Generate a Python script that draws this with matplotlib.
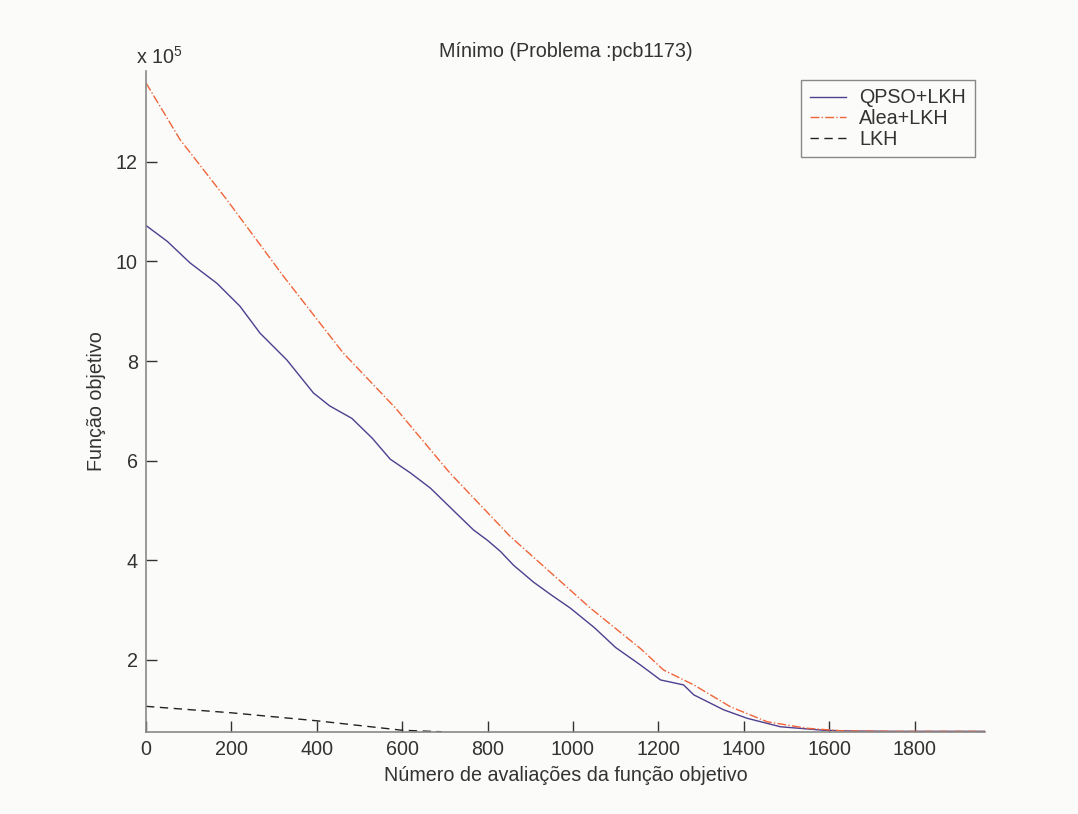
import matplotlib
matplotlib.use("Agg")
import matplotlib.pyplot as plt

# ---- data (values in units of 1e5) ----
qpso_x = [0, 50, 103, 166, 220, 267, 330, 392, 430, 482, 530, 572, 620, 666, 720,
          767, 800, 830, 861, 908, 950, 994, 1050, 1100, 1158, 1205, 1259, 1283,
          1353, 1408, 1486, 1587, 1650, 1750, 1965]
qpso_y = [10.72, 10.40, 9.97, 9.56, 9.10, 8.56, 8.02, 7.36, 7.10, 6.85, 6.45, 6.03,
          5.75, 5.45, 5.00, 4.61, 4.40, 4.18, 3.90, 3.56, 3.30, 3.04, 2.65, 2.25,
          1.90, 1.60, 1.50, 1.30, 1.00, 0.83, 0.66, 0.59, 0.575, 0.568, 0.568]

alea_x = [0, 80, 189, 322, 462, 585, 712, 853, 1041, 1158, 1212, 1283, 1369,
          1455, 1548, 1626, 1750, 1965]
alea_y = [13.58, 12.44, 11.24, 9.70, 8.16, 7.05, 5.75, 4.48, 3.04, 2.23, 1.80,
          1.50, 1.06, 0.76, 0.63, 0.58, 0.568, 0.568]

lkh_x = [0, 200, 400, 600, 693]
lkh_y = [1.07, 0.94, 0.78, 0.59, 0.56]

labels = ["QPSO+LKH", "Alea+LKH", "LKH"]
xticks = [0, 200, 400, 600, 800, 1000, 1200, 1400, 1600, 1800]
yticks = [2, 4, 6, 8, 10, 12]

plt.rcParams['font.family'] = ['Liberation Sans', 'DejaVu Sans']
FS = 14.2
plt.rcParams['font.size'] = FS

bg = '#fbfbf9'
fig = plt.figure(figsize=(10.78, 8.14), dpi=100, facecolor=bg)
ax = fig.add_axes([146/1078, 1-732/814, 839/1078, 661/814])
ax.set_facecolor(bg)

ax.plot(qpso_x, qpso_y, color='#4e3f8f', lw=1.0, label=labels[0])
ax.plot(alea_x, alea_y, color='#f0643a', lw=1.0, ls='-.', label=labels[1])
ax.plot(lkh_x, lkh_y, color='#222222', lw=1.0, ls=(0, (6, 4)), label=labels[2])

ax.set_xlim(0, 1965)
ax.set_ylim(0.555, 13.82)
ax.set_xticks(xticks)
ax.set_yticks(yticks)
ax.tick_params(direction='in', length=8, colors='#333333', width=1.0, labelsize=FS)
ax.tick_params(axis='x', pad=6)
ax.tick_params(axis='y', pad=6)
for s in ['top', 'right']:
    ax.spines[s].set_visible(False)
for s in ['left', 'bottom']:
    ax.spines[s].set_color('#888888')
    ax.spines[s].set_linewidth(1.2)

ax.text(0.5, 1.030, "Mínimo (Problema :pcb1173)", transform=ax.transAxes,
        ha='center', va='center', fontsize=FS, color='#333333')
ax.text(-0.012, 1.005, r"x 10$\mathregular{^{5}}$", transform=ax.transAxes,
        ha='left', va='bottom', fontsize=FS, color='#333333')
ax.set_xlabel("Número de avaliações da função objetivo", fontsize=FS, color='#333333')
ax.xaxis.set_label_coords(0.5, -0.052)
ax.set_ylabel("Função objetivo", fontsize=FS, color='#333333')
ax.yaxis.set_label_coords(-0.048, 0.5)

leg = ax.legend(loc='upper right', bbox_to_anchor=(0.988, 0.987), fancybox=False,
                framealpha=1, edgecolor='#888888', fontsize=FS, handlelength=1.8,
                borderpad=0.45, labelspacing=0.08, handletextpad=0.7, borderaxespad=0)
leg.get_frame().set_facecolor(bg)
leg.get_frame().set_linewidth(1.0)
for t in leg.get_texts():
    t.set_color('#333333')

fig.savefig("out.png", dpi=100, facecolor=bg)
